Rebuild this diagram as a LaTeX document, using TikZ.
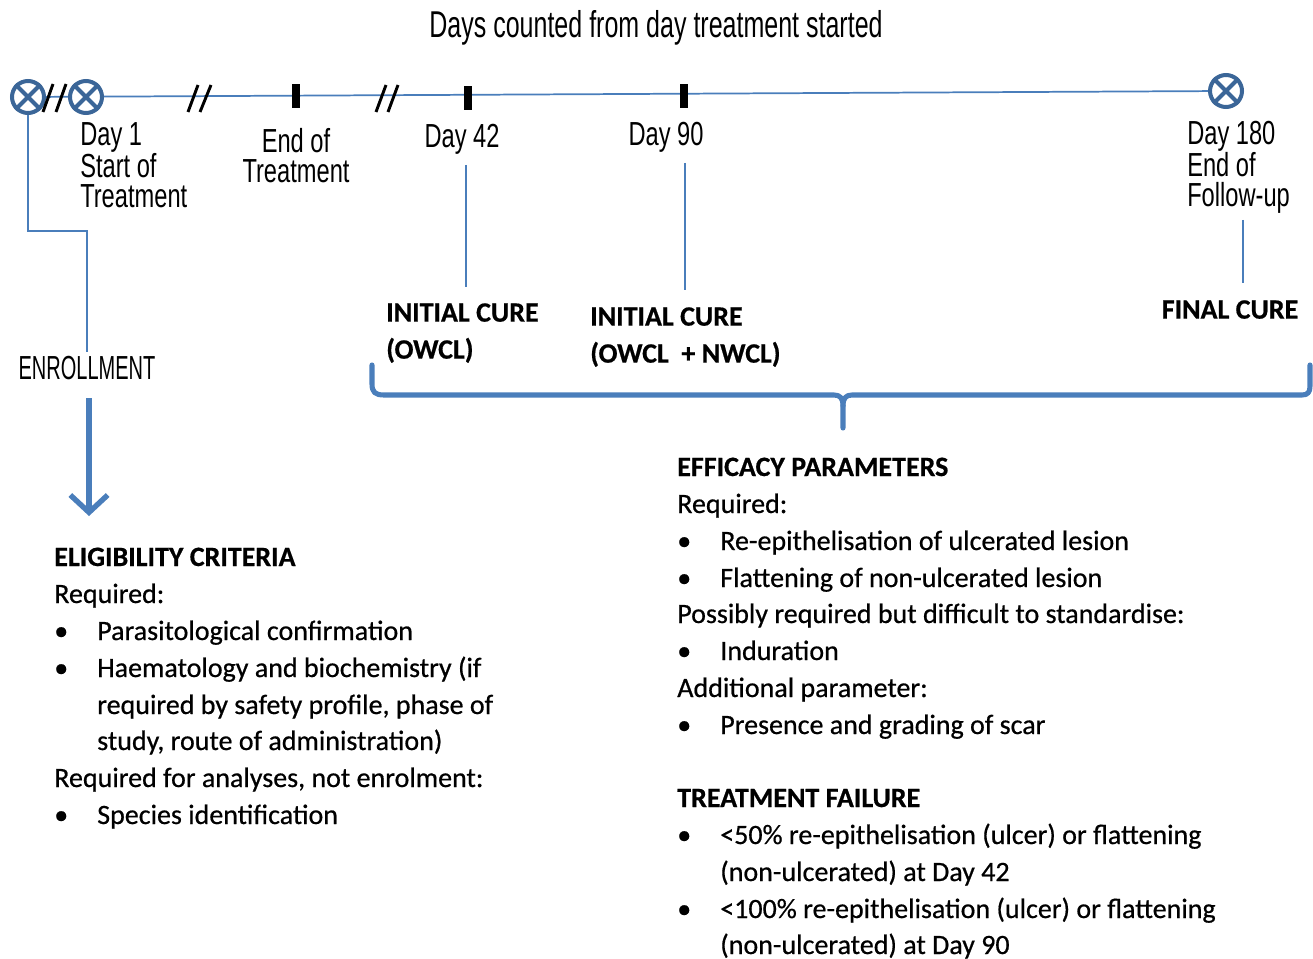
\documentclass[tikz,border=0pt]{standalone}
\usepackage{fontspec}
\setmainfont{Carlito}[FakeBold=0.6]
\newfontfamily\bodyfont[FakeBold=0.6]{Carlito}
\newfontfamily\agency[FakeStretch=0.71]{Liberation Sans}
\newfontfamily\agencyt[FakeStretch=0.67]{Liberation Sans}
\newfontfamily\agencye[FakeStretch=0.60]{Liberation Sans}
\usetikzlibrary{arrows.meta}
\definecolor{tline}{HTML}{4A7EBB}
\definecolor{cdark}{HTML}{3B6698}
\begin{document}
\begin{tikzpicture}[x=0.75pt,y=-0.75pt,
  tl/.style={draw=tline,line width=1.3pt},
  xcirc/.style={circle,draw=cdark,fill=white,line width=3pt,minimum size=24pt,inner sep=0pt},
  xline/.style={draw=cdark,line width=3pt},
  slash/.style={draw=black,line width=2.2pt},
  tick/.style={fill=black,draw=none,minimum width=6pt,minimum height=18pt,inner sep=0pt},
  ag/.style={font=\agency\fontsize{25}{22.2}\selectfont,inner sep=0pt,align=left},
  body/.style={font=\bodyfont\fontsize{21}{27.75}\selectfont,inner sep=0pt,anchor=base west},
  head/.style={font=\bfseries\fontsize{21}{27.75}\selectfont,inner sep=0pt,anchor=base west},
  brace/.style={draw=tline,line width=3.8pt,line cap=round,line join=round},
]
\useasboundingbox (0,0) rectangle (1313,959);

% title
\node[inner sep=0pt,font=\agencyt\fontsize{28}{30}\selectfont] (title) at (656,28) {Days counted from day treatment started};

% timeline
\coordinate (tstart) at (28,97);
\coordinate (tend) at (1226,91);
\draw[tl] (tstart) -- (tend);
\node[xcirc] (c1) at (28,97) {};
\node[xcirc] (c2) at (86,97) {};
\node[xcirc] (c3) at (1226,91) {};
\foreach \c in {c1,c2,c3}{
  \draw[xline] (\c.north west) -- (\c.south east) (\c.north east) -- (\c.south west);
}
\draw[slash] (43,112) -- (53,84) (56,112) -- (66,84);
\draw[slash] (188,112) -- (198,85) (200,112) -- (211,85);
\draw[slash] (376,112) -- (386,85) (388,112) -- (398,85);
\node[tick] (k1) at (296,96) {};
\node[tick] (k2) at (468,98) {};
\node[tick] (k3) at (684,96) {};

% timeline labels
\node[ag,anchor=north west] (d1) at (80,122) {Day 1\\Start of\\Treatment};
\node[ag,align=center,anchor=north] (eot) at (296,128) {End of\\Treatment};
\node[ag,anchor=north] (d42) at (462,124) {Day 42};
\node[ag,anchor=north] (d90) at (666,122) {Day 90};
\node[ag,anchor=north west] (d180) at (1187,121) {Day 180\\End of\\Follow-up};

% cure labels
\node[head,anchor=north west,align=left] (ic1) at (386,303) {INITIAL CURE\\(OWCL)};
\node[head,anchor=north west,align=left] (ic2) at (590,307) {INITIAL CURE\\(OWCL~ + NWCL)};
\node[head,anchor=north] (fc) at (1230,300) {FINAL CURE};

\coordinate (l42a) at (466,165); \coordinate (l42b) at (466,287);
\coordinate (l90a) at (685,163); \coordinate (l90b) at (685,290);
\coordinate (l180a) at (1243,220); \coordinate (l180b) at (1243,283);
\draw[tl] (l42a) -- (l42b);
\draw[tl] (l90a) -- (l90b);
\draw[tl] (l180a) -- (l180b);

% enrollment
\node[inner sep=0pt,font=\agencye\fontsize{25}{22}\selectfont] (enr) at (87,368) {ENROLLMENT};
\coordinate (e1) at (87,352);
\draw[tl] (c1.south) -- (28,231) -- (87,231) -- (e1);
\coordinate (a1) at (89,398); \coordinate (a2) at (89,516);
\draw[draw=tline,line width=4.5pt,-{Straight Barb[length=13pt,width=28pt,line width=4pt]}] (a1) -- (a2);

% brace
\coordinate (btip) at (843,428);
\draw[brace] (372,365) -- (372,384) .. controls (372,392) and (375,395) .. (384,395)
  -- (834,395) .. controls (840,395) and (843,398) .. (843,406) -- (btip);
\draw[brace] (843,406) .. controls (843,398) and (846,395) .. (852,395)
  -- (1302,395) .. controls (1308,395) and (1310,392) .. (1310,386) -- (1310,365);

% left block
\node[head] (lh) at (54,566) {ELIGIBILITY CRITERIA};
\node[body] (lr) at (54,603) {Required:};
\node[body] (lb1) at (54,640) {\textbullet};
\node[body] (lt1) at (97,640) {Parasitological confirmation};
\node[body] (lb2) at (54,677) {\textbullet};
\node[body] (lt2) at (97,677) {Haematology and biochemistry (if};
\node[body] (lt3) at (97,714) {required by safety profile, phase of};
\node[body] (lt4) at (97,750) {study, route of administration)};
\node[body] (lr2) at (54,787) {Required for analyses, not enrolment:};
\node[body] (lb3) at (54,824) {\textbullet};
\node[body] (lt5) at (97,824) {Species identification};

% right block
\node[head] (rh) at (677,476) {EFFICACY PARAMETERS};
\node[body] (rr) at (677,513) {Required:};
\node[body] (rb1) at (677,550) {\textbullet};
\node[body] (rt1) at (720,550) {Re-epithelisation of ulcerated lesion};
\node[body] (rb2) at (677,587) {\textbullet};
\node[body] (rt2) at (720,587) {Flattening of non-ulcerated lesion};
\node[body] (rp) at (677,623) {Possibly required but difficult to standardise:};
\node[body] (rb3) at (677,660) {\textbullet};
\node[body] (rt3) at (720,660) {Induration};
\node[body] (ra) at (677,697) {Additional parameter:};
\node[body] (rb4) at (677,734) {\textbullet};
\node[body] (rt4) at (720,734) {Presence and grading of scar};
\node[head] (th) at (677,807) {TREATMENT FAILURE};
\node[body] (tb1) at (677,844) {\textbullet};
\node[body] (tt1) at (720,844) {<50\% re-epithelisation (ulcer) or flattening};
\node[body] (tt2) at (720,881) {(non-ulcerated) at Day 42};
\node[body] (tb2) at (677,918) {\textbullet};
\node[body] (tt3) at (720,918) {<100\% re-epithelisation (ulcer) or flattening};
\node[body] (tt4) at (720,954) {(non-ulcerated) at Day 90};
\end{tikzpicture}
\end{document}
